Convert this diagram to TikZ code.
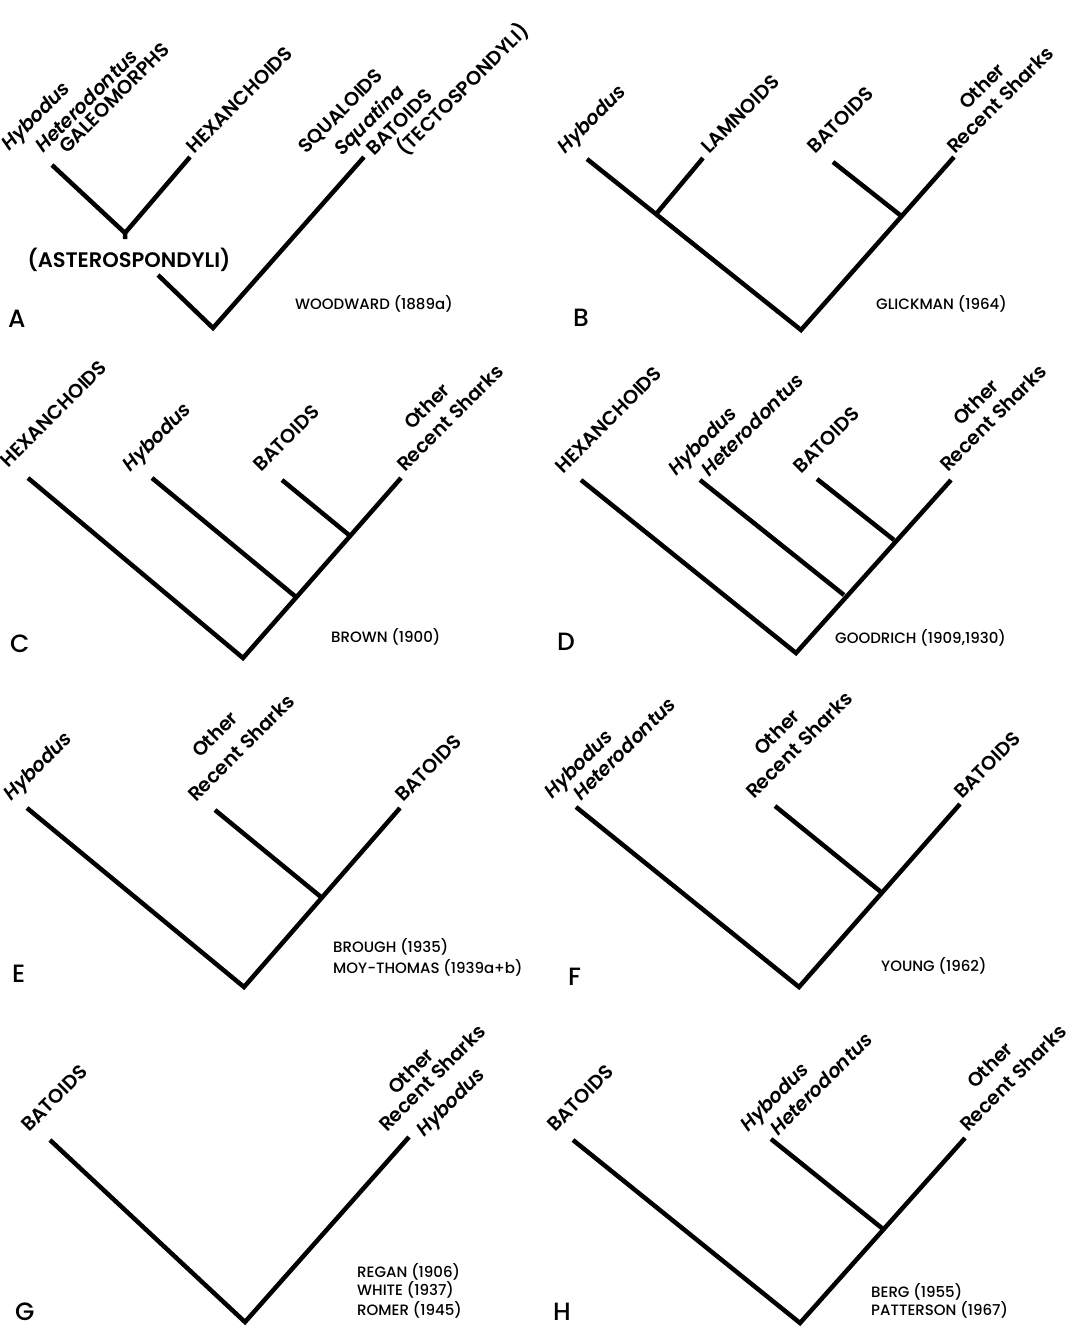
\documentclass[tikz,border=0pt]{standalone}
\usepackage{fontspec}
\setmainfont{Poppins}
\newfontfamily\labf{Poppins SemiBold}[ItalicFont={Poppins SemiBold Italic}]
\newfontfamily\capf{Poppins Medium}
\usetikzlibrary{calc}
\begin{document}
\begin{tikzpicture}[x=1pt,y=-1pt,
  br/.style={line width=4.5pt, line join=miter},
  lab/.style={font=\labf\fontsize{19.5}{21}\selectfont, rotate=45, anchor=base west, inner sep=0pt},
  itl/.style={lab, font=\labf\itshape\fontsize{19.5}{21}\selectfont},
  capt/.style={font=\capf\fontsize{15}{18}\selectfont, anchor=west, inner sep=0pt},
  letr/.style={font=\capf\fontsize{25}{27}\selectfont, anchor=base west, inner sep=0pt}]
\fill[white] (0,0) rectangle (1076,1328);
\useasboundingbox (0,0) rectangle (1076,1328);
% ---------------- A
\coordinate (a1) at (52,165);
\coordinate (aj) at (125,233);
\coordinate (ajt) at (125,239);
\coordinate (a2) at (190,157);
\coordinate (a3) at (158,275);
\coordinate (ar) at (213,328);
\coordinate (a4) at (364,157);
\draw[br] (a1) -- (aj);
\draw[br] (a2) -- (aj) -- (ajt);
\draw[br] (a3) -- (ar) -- (a4);
\node[itl] (aHy) at (9,152) {Hybodus};
\node[itl] (aHe) at (43,154) {Heterodontus};
\node[lab] (aGa) at (67,155) {GALEOMORPHS};
\node[lab] (aHx) at (194,155) {HEXANCHOIDS};
\node[lab] (aSq) at (306,155) {SQUALOIDS};
\node[itl] (aSt) at (342,157) {Squatina};
\node[lab] (aBa) at (374,157) {BATOIDS};
\node[lab] (aTe) at (405,157) {(TECTOSPONDYLI)};
\node[font=\labf\fontsize{21}{24}\selectfont, inner sep=0pt] (aAs) at (129,260) {(ASTEROSPONDYLI)};
\node[capt] (aC) at (295,304) {WOODWARD (1889a)};
\node[letr] (aL) at (8,327) {A};
% ---------------- B
\coordinate (b1) at (587,159);
\coordinate (bj) at (657,213);
\coordinate (b2) at (703,158);
\coordinate (br) at (801,330);
\coordinate (b3) at (833,162);
\coordinate (bk) at (900,215);
\coordinate (b4) at (954,157);
\draw[br] (b1) -- (br) -- (b4);
\draw[br] (b2) -- (bj);
\draw[br] (b3) -- (bk);
\node[itl] (bHy) at (565,155) {Hybodus};
\node[lab] (bLa) at (709,155) {LAMNOIDS};
\node[lab] (bBa) at (815,155) {BATOIDS};
\node[lab] (bOt) at (967,111) {Other};
\node[lab] (bRe) at (955,155) {Recent Sharks};
\node[capt] (bC) at (876,304) {GLICKMAN (1964)};
\node[letr] (bL) at (573,326) {B};
% ---------------- C
\coordinate (c1) at (28,478);
\coordinate (cr) at (243,658);
\coordinate (c2) at (152,478);
\coordinate (cj) at (296,597);
\coordinate (c3) at (282,480);
\coordinate (ck) at (349,535);
\coordinate (c4) at (401,478);
\draw[br] (c1) -- (cr) -- (c4);
\draw[br] (c2) -- (cj);
\draw[br] (c3) -- (ck);
\node[lab] (cHx) at (8,469) {HEXANCHOIDS};
\node[itl] (cHy) at (130,473) {Hybodus};
\node[lab] (cBa) at (261,473) {BATOIDS};
\node[lab] (cOt) at (412,431) {Other};
\node[lab] (cRe) at (405,473) {Recent Sharks};
\node[capt] (cC) at (331,637) {BROWN (1900)};
\node[letr] (cL) at (10,652) {C};
% ---------------- D
\coordinate (d1) at (581,480);
\coordinate (dr) at (796,653);
\coordinate (d2) at (700,480);
\coordinate (dj) at (844,595);
\coordinate (d3) at (817,479);
\coordinate (dk) at (894,540);
\coordinate (d4) at (951,480);
\draw[br] (d1) -- (dr) -- (d4);
\draw[br] (d2) -- (dj);
\draw[br] (d3) -- (dk);
\node[lab] (dHx) at (563,475) {HEXANCHOIDS};
\node[itl] (dHy) at (676,477) {Hybodus};
\node[itl] (dHe) at (709,478) {Heterodontus};
\node[lab] (dBa) at (801,475) {BATOIDS};
\node[lab] (dOt) at (961,427) {Other};
\node[lab] (dRe) at (948,473) {Recent Sharks};
\node[capt] (dC) at (835,638) {GOODRICH (1909,1930)};
\node[letr] (dL) at (557,650) {D};
% ---------------- E
\coordinate (e1) at (27,808);
\coordinate (er) at (244,987);
\coordinate (e2) at (215,810);
\coordinate (ej) at (321,897);
\coordinate (e3) at (400,808);
\draw[br] (e1) -- (er) -- (e3);
\draw[br] (e2) -- (ej);
\node[itl] (eHy) at (11,802) {Hybodus};
\node[lab] (eOt) at (200,759) {Other};
\node[lab] (eRe) at (196,803) {Recent Sharks};
\node[lab] (eBa) at (403,803) {BATOIDS};
\node[capt] (eC1) at (333,947) {BROUGH (1935)};
\node[capt] (eC2) at (333,968) {MOY-THOMAS (1939a+b)};
\node[letr] (eL) at (12,982) {E};
% ---------------- F
\coordinate (f1) at (576,807);
\coordinate (fr) at (799,987);
\coordinate (f2) at (775,806);
\coordinate (fj) at (881,892);
\coordinate (f3) at (960,804);
\draw[br] (f1) -- (fr) -- (f3);
\draw[br] (f2) -- (fj);
\node[itl] (fHy) at (552,800) {Hybodus};
\node[itl] (fHe) at (581,802) {Heterodontus};
\node[lab] (fOt) at (762,757) {Other};
\node[lab] (fRe) at (754,800) {Recent Sharks};
\node[lab] (fBa) at (962,800) {BATOIDS};
\node[capt] (fC) at (881,966) {YOUNG (1962)};
\node[letr] (fL) at (568,985) {F};
% ---------------- G
\coordinate (g1) at (50,1140);
\coordinate (gr) at (245,1322);
\coordinate (g2) at (409,1137);
\draw[br] (g1) -- (gr) -- (g2);
\node[lab] (gBa) at (29,1133) {BATOIDS};
\node[lab] (gOt) at (396,1096) {Other};
\node[lab] (gRe) at (387,1133) {Recent Sharks};
\node[itl] (gHy) at (424,1138) {Hybodus};
\node[capt] (gC1) at (357,1272) {REGAN (1906)};
\node[capt] (gC2) at (357,1290) {WHITE (1937)};
\node[capt] (gC3) at (357,1310) {ROMER (1945)};
\node[letr] (gL) at (15,1320) {G};
% ---------------- H
\coordinate (h1) at (573,1140);
\coordinate (hr) at (800,1323);
\coordinate (h2) at (771,1139);
\coordinate (hj) at (883,1229);
\coordinate (h3) at (965,1138);
\draw[br] (h1) -- (hr) -- (h3);
\draw[br] (h2) -- (hj);
\node[lab] (hBa) at (555,1133) {BATOIDS};
\node[itl] (hHy) at (748,1133) {Hybodus};
\node[itl] (hHe) at (778,1137) {Heterodontus};
\node[lab] (hOt) at (975,1090) {Other};
\node[lab] (hRe) at (968,1133) {Recent Sharks};
\node[capt] (hC1) at (871,1292) {BERG (1955)};
\node[capt] (hC2) at (871,1310) {PATTERSON (1967)};
\node[letr] (hL) at (553,1320) {H};
\end{tikzpicture}
\end{document}
